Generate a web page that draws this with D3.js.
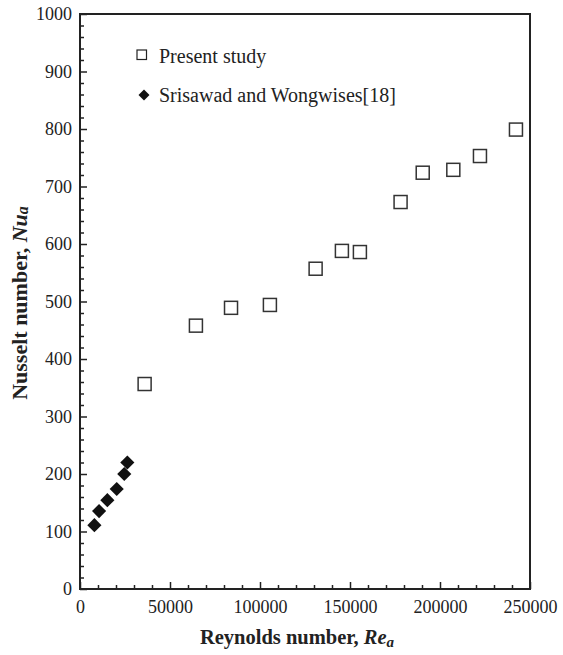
<!DOCTYPE html>
<html><head><meta charset="utf-8">
<script src="https://cdn.jsdelivr.net/npm/d3@7"></script>
<style>
body{margin:0;background:#fff;}
</style></head>
<body>
<script>
const presentRe = [35900, 64400, 83900, 105500, 130900, 145500, 155500, 178100, 190400, 207400, 222200, 242200];
const presentNu = [356.5, 458, 489, 494, 557, 588, 586, 673, 724, 729, 753, 799];
const srisawadRe = [8000, 10600, 15200, 20400, 24600, 26300];
const srisawadNu = [111, 135.5, 154.5, 174, 200, 220];
const xTicks = [0, 50000, 100000, 150000, 200000, 250000];
const yTicks = [0, 100, 200, 300, 400, 500, 600, 700, 800, 900, 1000];
const seriesNames = ["Present study", "Srisawad and Wongwises[18]"];

const FONT = "Liberation Serif";
const W = 563, H = 655;
const m = {left: 80, right: 33, top: 14, bottom: 66};
const svg = d3.select("body").append("svg").attr("width", W).attr("height", H)
  .attr("font-family", FONT);
const x = d3.scaleLinear().domain([0, 250000]).range([m.left, W - m.right]);
const y = d3.scaleLinear().domain([0, 1000]).range([H - m.bottom, m.top]);
const ink = "#222";

// minor ticks
const xMinor = d3.range(0, 250001, 10000).filter(v => v % 50000 !== 0);
const yMinor = d3.range(0, 1001, 20).filter(v => v % 100 !== 0);

const gx = svg.append("g").attr("transform", `translate(0,${y(0)})`);
gx.call(d3.axisBottom(x).tickValues(xMinor).tickSize(-4).tickFormat(""));
const gx2 = svg.append("g").attr("transform", `translate(0,${y(0)})`);
gx2.call(d3.axisBottom(x).tickValues(xTicks).tickSize(-7).tickPadding(14).tickFormat(d3.format("d")));
const gy = svg.append("g").attr("transform", `translate(${x(0)},0)`);
gy.call(d3.axisLeft(y).tickValues(yMinor).tickSize(-4).tickFormat(""));
const gy2 = svg.append("g").attr("transform", `translate(${x(0)},0)`);
gy2.call(d3.axisLeft(y).tickValues(yTicks).tickSize(-7).tickPadding(8).tickFormat(d3.format("d")));

svg.selectAll("g").attr("font-family", FONT).attr("font-size", 18);
svg.selectAll(".domain").remove();
svg.selectAll(".tick line").attr("stroke", ink).attr("stroke-width", 1.5);
svg.selectAll(".tick text").attr("fill", "#222").attr("font-family", FONT).attr("font-size", 18);
gx2.selectAll(".tick text").attr("dy", null).attr("y", 24);

// frame
svg.append("rect").attr("x", x(0)).attr("y", y(1000))
  .attr("width", x(250000) - x(0)).attr("height", y(0) - y(1000))
  .attr("fill", "none").attr("stroke", ink).attr("stroke-width", 2);

// present study squares
const sq = 13;
svg.append("g").selectAll("rect").data(presentRe.map((r, i) => [r, presentNu[i]]))
  .join("rect")
  .attr("x", d => x(d[0]) - sq / 2).attr("y", d => y(d[1]) - sq / 2)
  .attr("width", sq).attr("height", sq)
  .attr("fill", "none").attr("stroke", "#333").attr("stroke-width", 1.5);

// Srisawad diamonds
svg.append("g").selectAll("path").data(srisawadRe.map((r, i) => [r, srisawadNu[i]]))
  .join("path")
  .attr("d", d3.symbol().type(d3.symbolSquare).size(100)())
  .attr("transform", d => `translate(${x(d[0])},${y(d[1])}) rotate(45)`)
  .attr("fill", "#111");

// legend
const lg = svg.append("g");
lg.append("rect").attr("x", 137).attr("y", 50).attr("width", 9.5).attr("height", 9.5)
  .attr("fill", "none").attr("stroke", "#222").attr("stroke-width", 1.2);
lg.append("text").attr("x", 159).attr("y", 63).attr("font-family", FONT).attr("font-size", 20).attr("fill", "#222").text(seriesNames[0]);
lg.append("path").attr("d", d3.symbol().type(d3.symbolSquare).size(60)())
  .attr("transform", "translate(144,95) rotate(45)").attr("fill", "#111");
lg.append("text").attr("x", 159).attr("y", 102).attr("font-family", FONT).attr("font-size", 20).attr("fill", "#222").text(seriesNames[1]);

// axis titles
const xt = svg.append("text").attr("x", 297).attr("y", 644).attr("text-anchor", "middle")
  .attr("font-family", FONT).attr("font-size", 20.5).attr("font-weight", "bold").attr("fill", "#222");
xt.append("tspan").text("Reynolds number, ");
xt.append("tspan").attr("font-style", "italic").text("Re");
xt.append("tspan").attr("font-style", "italic").attr("font-size", 15).attr("dy", 3).text("a");

const yt = svg.append("text").attr("transform", "translate(27,303) rotate(-90)").attr("text-anchor", "middle")
  .attr("font-family", FONT).attr("font-size", 22).attr("font-weight", "bold").attr("fill", "#222");
yt.append("tspan").text("Nusselt number, ");
yt.append("tspan").attr("font-style", "italic").text("Nu");
yt.append("tspan").attr("font-style", "italic").attr("font-size", 16).attr("dy", 1).text("a");
</script>
</body></html>
